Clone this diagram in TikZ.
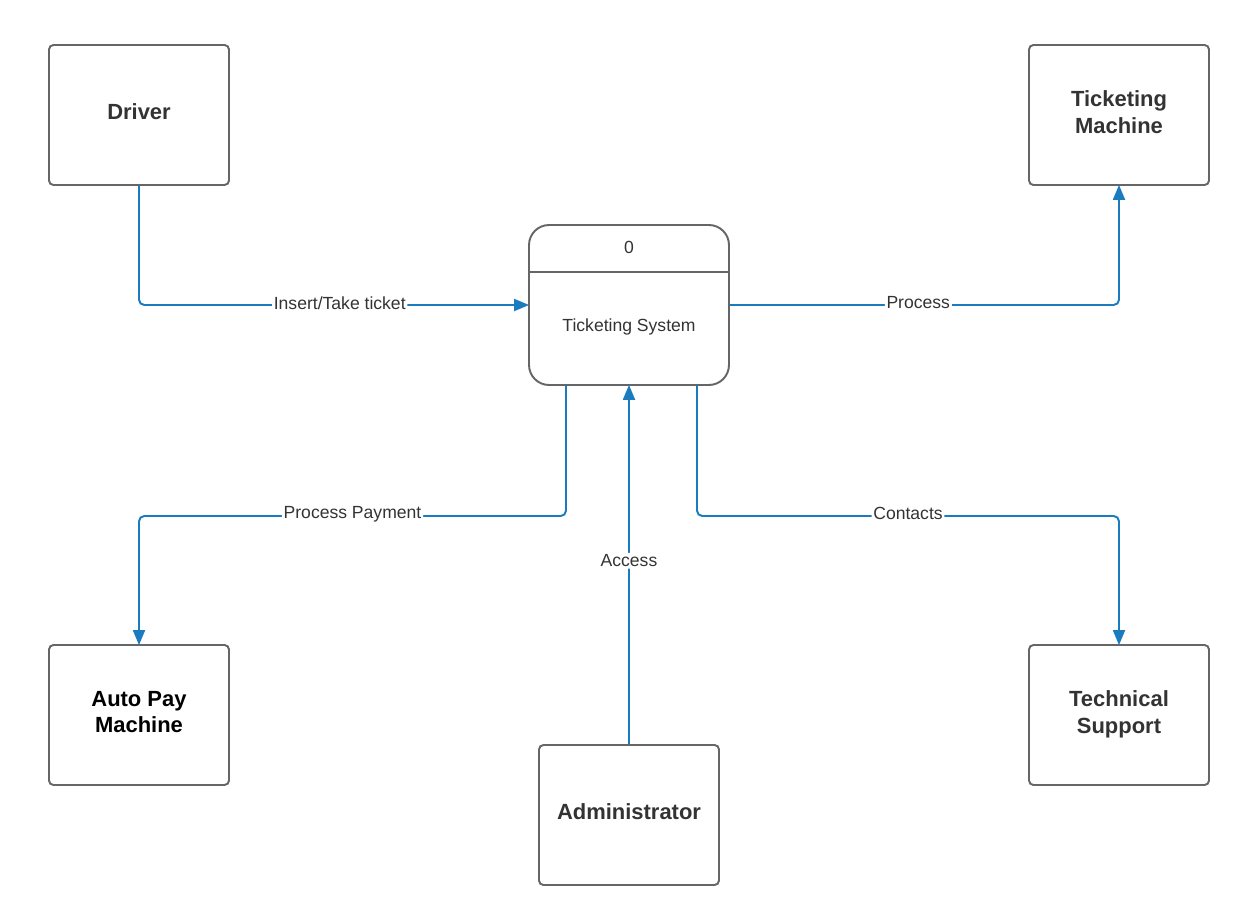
\documentclass[tikz,border=0pt]{standalone}
\usepackage{fontspec}
\setmainfont{Liberation Sans}
\usetikzlibrary{arrows.meta}
\definecolor{flow}{HTML}{1A7BBF}
\definecolor{edge}{HTML}{666666}
\definecolor{ink}{HTML}{333333}

\begin{document}
\begin{tikzpicture}[x=0.02cm,y=-0.02cm,
    entity/.style={draw=edge,line width=1.1pt,rounded corners=2.5pt,
      minimum width=3.6cm,minimum height=2.8cm,align=center,text=ink,
      text depth=3.5pt,font=\fontsize{12.5}{15.3}\selectfont\bfseries},
    flowline/.style={draw=flow,line width=1.1pt,rounded corners=3pt,
      shorten >=-0.6pt,-{Triangle[length=8.5pt,width=6.8pt]}},
    lbl/.style={fill=white,inner sep=1pt,yshift=1.2pt,text=ink,
      font=\fontsize{10}{12}\selectfont}]
  \useasboundingbox (0,0) rectangle (1248,916);

  \node [entity] (driver) at (139,115) {Driver};
  \node [entity] (tm) at (1119,115) {Ticketing\\Machine};
  \node [entity,text=black] (apm) at (139,715) {Auto Pay\\Machine};
  \node [entity] (admin) at (629,815) {Administrator};
  \node [entity] (ts) at (1119,715) {Technical\\Support};

  % process 0
  \node [draw=edge,line width=1.1pt,rounded corners=0.4cm,
    minimum width=4cm,minimum height=3.2cm] (proc) at (629,305) {};
  \draw [edge,line width=1.1pt] (proc.west |- 0,272) -- (proc.east |- 0,272);
  \node [text=ink,font=\fontsize{10}{12}\selectfont] (pnum) at (629,247) {0};
  \node [text=ink,font=\fontsize{10}{12}\selectfont] (pname) at (629,327) {Ticketing System};

  \draw [flowline] (driver.south) |- node [lbl,pos=0.758] {Insert/Take ticket} (proc.west);
  \draw [flowline] (proc.east) -| node [lbl,pos=0.242] {Process} (tm.south);
  \draw [flowline] (proc.south -| 566,0) -- (566,516) -- node [lbl] {Process Payment} (139,516) -- (apm.north);
  \draw [flowline] (proc.south -| 697,0) -- (697,516) -- node [lbl] {Contacts} (1119,516) -- (ts.north);
  \draw [flowline] (admin.north) -- node [lbl,pos=0.506] {Access} (proc.south);
\end{tikzpicture}
\end{document}
